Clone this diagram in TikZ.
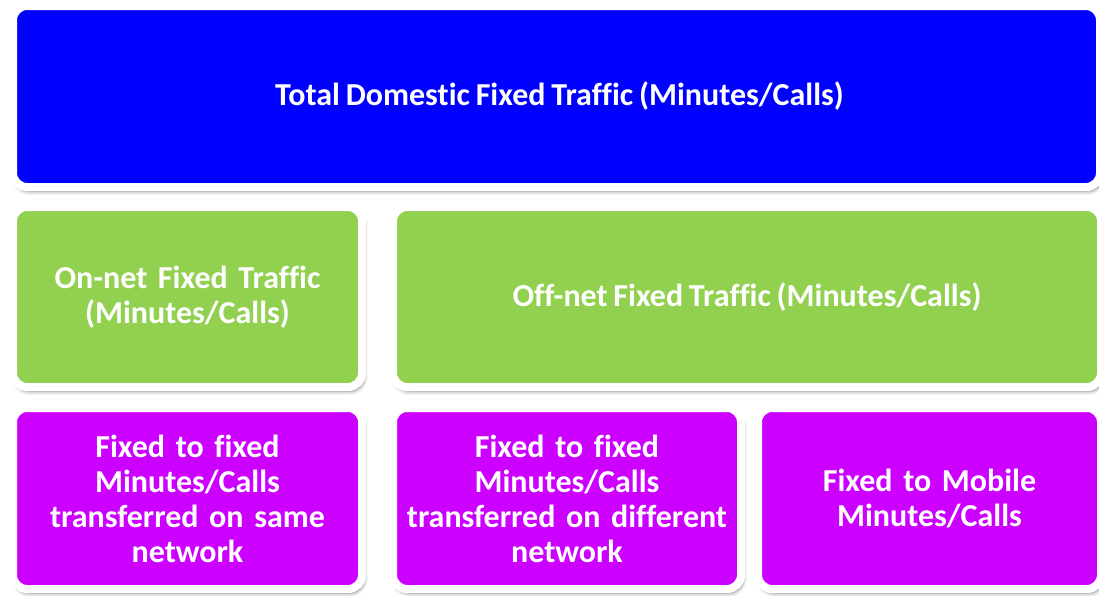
\documentclass[tikz,border=0pt]{standalone}
\usepackage{fontspec}
\setmainfont[Ligatures={NoCommon}, WordSpace=0.8]{Carlito}
\usetikzlibrary{shadows.blur}
\definecolor{topblue}{RGB}{0,0,255}
\definecolor{midgreen}{RGB}{146,208,80}
\definecolor{lowpurple}{RGB}{204,0,255}
\tikzset{
  tile/.style={rectangle, draw=white, line width=8pt, rounded corners=14pt,
    inner sep=0pt, align=center, text=white,
    font=\bfseries\fontsize{32}{35}\selectfont,
    blur shadow={shadow xshift=2pt, shadow yshift=-4pt, shadow blur radius=4pt, shadow opacity=55}},
}
\begin{document}
\begin{tikzpicture}[x=1pt, y=-1pt]
  \useasboundingbox (0,0) rectangle (1099,595);
  % top level
  \node[tile, fill=topblue, minimum width=1087pt, minimum height=181pt]
    (total) at (556.5,96.5) {\hspace*{6pt}Total Domestic Fixed Traffic (Minutes/Calls)};
  % second level
  \node[tile, fill=midgreen, minimum width=349pt, minimum height=180pt, text width=335pt]
    (onnet) at (187.5,297) {On-net Fixed Traffic\\(Minutes/Calls)};
  \node[tile, fill=midgreen, minimum width=708pt, minimum height=180pt]
    (offnet) at (747,297) {Off-net Fixed Traffic (Minutes/Calls)};
  % third level
  \node[tile, fill=lowpurple, minimum width=349pt, minimum height=181pt, text width=335pt]
    (same) at (187.5,498.5) {Fixed to fixed\\Minutes/Calls\\transferred on same\\network};
  \node[tile, fill=lowpurple, minimum width=348pt, minimum height=181pt, text width=335pt]
    (diff) at (567,498.5) {Fixed to fixed\\Minutes/Calls\\transferred on different\\network};
  \node[tile, fill=lowpurple, minimum width=343pt, minimum height=181pt, text width=330pt]
    (mobile) at (929.5,498.5) {Fixed to Mobile\\Minutes/Calls};
\end{tikzpicture}
\end{document}
